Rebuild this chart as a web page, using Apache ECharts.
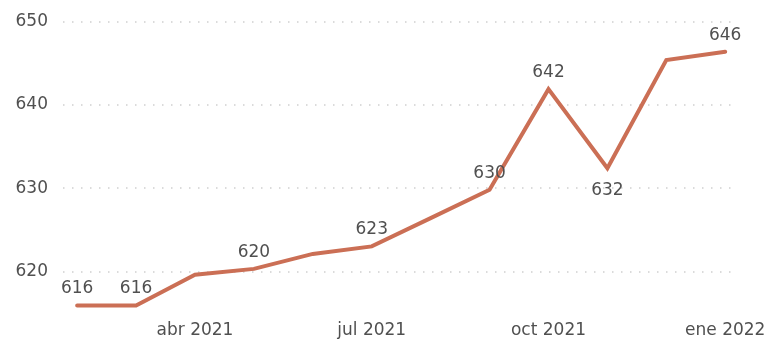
<!DOCTYPE html>
<html>
<head>
<meta charset="utf-8">
<script src="https://cdn.jsdelivr.net/npm/echarts@6/dist/echarts.min.js"></script>
<style>
  html, body { margin: 0; padding: 0; background: #fff; }
  #chart { width: 770px; height: 339px; }
</style>
</head>
<body>
<div id="chart"></div>
<script>
// Monthly series, feb 2021 – ene 2022
const months = ['feb 2021', 'mar 2021', 'abr 2021', 'may 2021', 'jun 2021', 'jul 2021',
                'ago 2021', 'sep 2021', 'oct 2021', 'nov 2021', 'dic 2021', 'ene 2022'];
const values = [615.9, 615.9, 619.6, 620.3, 622.1, 623.0, 626.4, 629.8, 641.9, 632.4, 645.4, 646.4];
// Which points carry a value label, and where it sits
const labelled = [true, true, false, true, false, true, false, true, true, true, false, true];
const labelBelow = [false, false, false, false, false, false, false, false, false, true, false, false];
// Axis tick labels
const xTickIdx = [2, 5, 8, 11];
const yTicks = [620, 630, 640, 650];

const textColor = '#505050';
const lineColor = '#cb6f55';
const font = 'DejaVu Sans, Verdana, sans-serif';

const chart = echarts.init(document.getElementById('chart'), null, { renderer: 'canvas' });

const seriesData = values.map((v, i) => ({
  value: [i, v],
  label: {
    show: labelled[i],
    position: labelBelow[i] ? 'bottom' : 'top',
    distance: labelBelow[i] ? 13 : 7
  }
}));

chart.setOption({
  animation: false,
  backgroundColor: '#ffffff',
  grid: { left: 63, right: 33, top: 21.7, bottom: 25.7, containLabel: false },
  xAxis: {
    type: 'value',
    min: -0.24,
    max: 11.2,
    axisLine: { show: false },
    axisTick: { show: false },
    splitLine: { show: false },
    axisLabel: {
      customValues: xTickIdx,
      formatter: v => months[Math.round(v)],
      color: textColor,
      fontFamily: font,
      fontSize: 17,
      margin: 9
    }
  },
  yAxis: {
    type: 'value',
    min: 615,
    max: 650,
    axisLine: { show: false },
    axisTick: { show: false, customValues: yTicks },
    axisLabel: {
      customValues: yTicks,
      color: textColor,
      fontFamily: font,
      fontSize: 17,
      margin: 15
    },
    splitLine: {
      show: true,
      lineStyle: { color: '#cfcfcf', width: 1.5, type: [1.5, 7.5] }
    }
  },
  series: [{
    type: 'line',
    data: seriesData,
    symbol: 'circle',
    symbolSize: 2,
    showSymbol: true,
    showAllSymbol: true,
    itemStyle: { color: lineColor },
    lineStyle: { color: lineColor, width: 4, cap: 'round', join: 'miter' },
    label: {
      show: true,
      color: textColor,
      fontFamily: font,
      fontSize: 17,
      formatter: p => Math.round(p.value[1]).toString()
    }
  }]
});
</script>
</body>
</html>
